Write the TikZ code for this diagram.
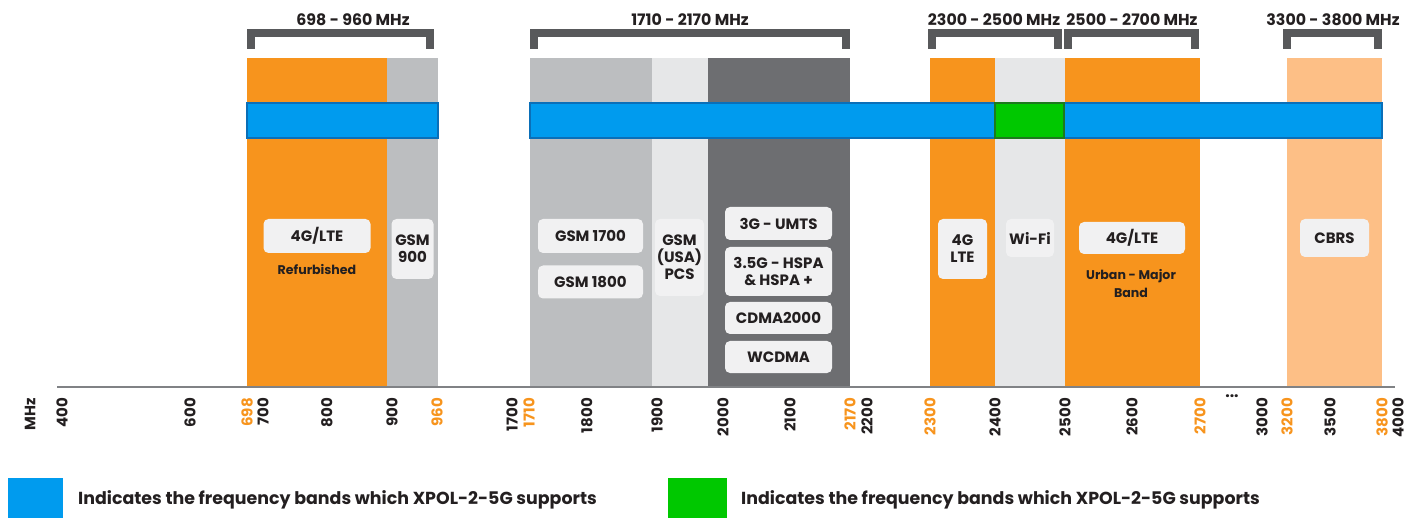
\documentclass[tikz,border=0pt]{standalone}
\usepackage{fontspec}
\setmainfont{Poppins}
\usepackage{tikz}
\usetikzlibrary{positioning}
\definecolor{bandorange}{HTML}{F7941D}
\definecolor{bandgray}{HTML}{BCBEC0}
\definecolor{bandlight}{HTML}{E6E7E8}
\definecolor{banddark}{HTML}{6D6E71}
\definecolor{bandcbrs}{HTML}{FDBF86}
\definecolor{barblue}{HTML}{009BEE}
\definecolor{barblueedge}{HTML}{0A6FB8}
\definecolor{bargreen}{HTML}{00C800}
\definecolor{bargreenedge}{HTML}{1D7A1D}
\definecolor{brackgray}{HTML}{58595B}
\definecolor{boxfill}{HTML}{F1F1F2}
\definecolor{inkdark}{HTML}{231F20}
\definecolor{axisgray}{HTML}{808285}
\tikzset{
  lbl/.style={
    shape = rectangle,
    rounded corners = 5pt,
    fill = boxfill,
    inner sep = 0pt,
    align = center,
    text = inkdark,
    font = \fontsize{15}{17}\selectfont\bfseries
  },
  subl/.style={
    align = center,
    text = inkdark,
    inner sep = 0pt,
    font = \fontsize{12.6}{18}\selectfont\bfseries
  },
  head/.style={
    text = inkdark,
    inner sep = 0pt,
    font = \fontsize{15.8}{18}\selectfont\bfseries
  },
  brack/.style={
    draw = brackgray,
    line width = 8pt,
    line join = miter
  },
  tick/.style={
    rotate = 90,
    anchor = east,
    inner sep = 0pt,
    text = inkdark,
    font = \fontsize{15}{17}\selectfont\bfseries
  },
  otick/.style={
    tick,
    text = bandorange
  },
  bar/.style={
    fill = barblue,
    draw = barblueedge,
    line width = 1.6pt
  },
  legend/.style={
    anchor = west,
    inner sep = 0pt,
    text = inkdark,
    font = \fontsize{17.4}{19}\selectfont\bfseries
  }
}
\begin{document}
\begin{tikzpicture}[x=1pt,y=-1pt]
        \useasboundingbox (0,0) rectangle (1421,518);
        % frequency columns
        \fill[bandorange] (247,58) rectangle (387,387);
        \fill[bandgray] (387,58) rectangle (438,387);
        \fill[bandgray] (530,58) rectangle (652,387);
        \fill[bandlight] (652,58) rectangle (708,387);
        \fill[banddark] (708,58) rectangle (850,387);
        \fill[bandorange] (930,58) rectangle (995,387);
        \fill[bandlight] (995,58) rectangle (1065,387);
        \fill[bandorange] (1065,58) rectangle (1200,387);
        \fill[bandcbrs] (1287,58) rectangle (1382,387);
        % supported bands
        \draw[bar] (247,103) rectangle (438,138);
        \draw[bar] (530,103) rectangle (1382,138);
        \draw[bar, fill=bargreen, draw=bargreenedge] (995,103) rectangle (1064,138);
        % brackets
        \draw[brack] (251,49) |- (430,33) -- (430,49);
        \draw[brack] (534,49) |- (846,33) -- (846,49);
        \draw[brack] (932,49) |- (1058,33) -- (1058,49);
        \draw[brack] (1068,49) |- (1195,33) -- (1195,49);
        \draw[brack] (1287,49) |- (1378,33) -- (1378,49);
        \node[head] (h1) at (353,20) {698 - 960 MHz};
        \node[head] (h2) at (690,20) {1710 - 2170 MHz};
        \node[head] (h3) at (994,20) {2300 - 2500 MHz};
        \node[head] (h4) at (1132,20) {2500 - 2700 MHz};
        \node[head] (h5) at (1333,20) {3300 - 3800 MHz};
        % labels
        \node[lbl, minimum width=107pt, minimum height=34pt] (lte1) at (317,236) {4G/LTE};
        \node[subl] (refurb) at (317,270) {Refurbished};
        \node[lbl, minimum width=42pt, minimum height=60pt] (gsm9) at (412.5,249) {GSM\\900};
        \node[lbl, minimum width=105pt, minimum height=34pt] (gsm17) at (590.5,236) {GSM 1700};
        \node[lbl, minimum width=105pt, minimum height=33pt] (gsm18) at (590.5,282) {GSM 1800};
        \node[lbl, minimum width=49pt, minimum height=77pt] (pcs) at (679.5,257.5) {GSM\\(USA)\\PCS};
        \node[lbl, minimum width=107pt, minimum height=33pt] (umts) at (778.5,223.5) {3G - UMTS};
        \node[lbl, minimum width=107pt, minimum height=49pt] (hspa) at (778.5,271.5) {3.5G - HSPA\\\& HSPA +};
        \node[lbl, minimum width=107pt, minimum height=32pt] (cdma) at (778.5,318) {CDMA2000};
        \node[lbl, minimum width=107pt, minimum height=32pt] (wcdma) at (778.5,357) {WCDMA};
        \node[lbl, minimum width=49pt, minimum height=60pt] (lte2) at (962.5,249) {4G\\LTE};
        \node[lbl, minimum width=48pt, minimum height=38pt] (wifi) at (1030,238) {Wi-Fi};
        \node[lbl, minimum width=106pt, minimum height=32pt] (lte3) at (1132,238) {4G/LTE};
        \node[subl] (urban) at (1131,284) {Urban - Major\\Band};
        \node[lbl, minimum width=69pt, minimum height=38pt] (cbrs) at (1334.5,238) {CBRS};
        % axis
        \draw[axisgray, line width=2pt] (57,387) -- (1395,387);
        \node[tick] (mhz) at (30,398) {MHz};
        \foreach \xpos/\val in {62/400, 190/600, 263/700, 327/800, 392/900,
                512/1700, 587/1800, 657/1900, 723/2000, 790/2100, 867/2200,
                995/2400, 1065/2500, 1132/2600, 1262/3000, 1330/3500, 1398/4000}
            \node[tick] (t\val) at (\xpos,398) {\val};
        \foreach \xpos/\val in {247/698, 437/960, 529/1710, 850/2170, 930/2300,
                1200/2700, 1287/3200, 1382/3800}
            \node[otick] (o\val) at (\xpos,398) {\val};
        \node[head] (dots) at (1232,396) {...};
        % legend
        \fill[barblue] (8,478) rectangle (63,518);
        \node[legend] (leg1) at (78,500) {Indicates the frequency bands which XPOL-2-5G supports};
        \fill[bargreen] (668,478) rectangle (727,518);
        \node[legend] (leg2) at (741,500) {Indicates the frequency bands which XPOL-2-5G supports};
    \end{tikzpicture}
\end{document}
